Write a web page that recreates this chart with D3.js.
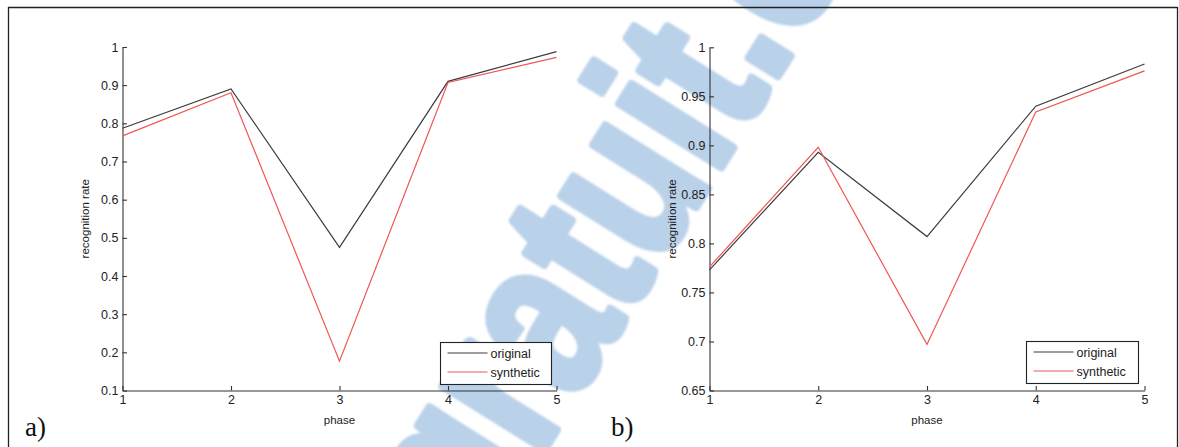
<!DOCTYPE html>
<html>
<head>
<meta charset="utf-8">
<script src="https://cdn.jsdelivr.net/npm/d3@7"></script>
<style>
  body { margin: 0; background: #fff; }
  svg { display: block; }
</style>
</head>
<body>
<svg id="chart" width="1179" height="447"></svg>
<script>
// Recognition rate per phase, two experiments
const phases = [1, 2, 3, 4, 5];
const seriesNames = ["original", "synthetic"];
const originalA = [0.787, 0.890, 0.475, 0.910, 0.988];
const syntheticA = [0.767, 0.880, 0.177, 0.907, 0.973];
const originalB = [0.773, 0.893, 0.807, 0.940, 0.983];
const syntheticB = [0.776, 0.898, 0.697, 0.934, 0.976];
const yTicksA = [0.1, 0.2, 0.3, 0.4, 0.5, 0.6, 0.7, 0.8, 0.9, 1];
const yTickLabelsA = ["0.1", "0.2", "0.3", "0.4", "0.5", "0.6", "0.7", "0.8", "0.9", "1"];
const yTicksB = [0.65, 0.7, 0.75, 0.8, 0.85, 0.9, 0.95, 1];
const yTickLabelsB = ["0.65", "0.7", "0.75", "0.8", "0.85", "0.9", "0.95", "1"];
const xTickLabels = ["1", "2", "3", "4", "5"];
const panelLabels = ["a)", "b)"];
const xTitle = "phase";
const yTitle = "recognition rate";
const watermarkText = "rapport-gratuit.com";

const colors = { original: "#3c3c3c", synthetic: "#f05656" };
const svg = d3.select("#chart");
const tickFont = "'Liberation Sans', Arial, sans-serif";

// Site watermark behind the figure (condensed heavy lettering, rotated)
svg.append("defs").append("filter").attr("id", "soft")
  .append("feGaussianBlur").attr("stdDeviation", 0.8);
const wm = svg.append("g").attr("filter", "url(#soft)");
const wmSize = 226, wmAngle = -58, wmSqueeze = 0.78;
const wmText = wm.append("text")
  .attr("font-family", tickFont)
  .attr("font-weight", "bold")
  .attr("font-size", wmSize)
  .attr("fill", "#bad1ea")
  .attr("stroke", "#bad1ea")
  .attr("stroke-width", 9)
  .attr("stroke-linejoin", "round")
  .text(watermarkText);
{
  const node = wmText.node();
  const dotIdx = watermarkText.indexOf(".");
  const before = node.getSubStringLength(0, dotIdx) * wmSqueeze;
  const dotW = node.getSubStringLength(dotIdx, 1) * wmSqueeze;
  const a = wmAngle * Math.PI / 180;
  const b = [Math.cos(a), Math.sin(a)], u = [Math.sin(a), -Math.cos(a)];
  const P = [770, 57];
  const along = before + dotW / 2, up = 0.073 * wmSize;
  const S = [P[0] - b[0] * along - u[0] * up, P[1] - b[1] * along - u[1] * up];
  wmText.attr("transform", `translate(${S[0]},${S[1]}) rotate(${wmAngle}) scale(${wmSqueeze},1)`);
}

// Outer frame
const frame = svg.append("g").attr("stroke", "#222").attr("stroke-width", 1.3).attr("fill", "none");
frame.append("line").attr("x1", 8).attr("x2", 1177.5).attr("y1", 7.5).attr("y2", 7.5);
frame.append("line").attr("x1", 8.5).attr("x2", 8.5).attr("y1", 7).attr("y2", 447);
frame.append("line").attr("x1", 1177.5).attr("x2", 1177.5).attr("y1", 7).attr("y2", 447);

function panel(cfg) {
  const x = d3.scaleLinear().domain([1, 5]).range(cfg.xRange);
  const y = d3.scaleLinear().domain(cfg.yDomain).range(cfg.yRange);
  const g = svg.append("g");

  const xAxis = d3.axisBottom(x).tickValues(phases)
    .tickFormat((d, i) => xTickLabels[i])
    .tickSizeInner(-4.5).tickSizeOuter(0).tickPadding(5);
  const yAxis = d3.axisLeft(y).tickValues(cfg.yTicks)
    .tickFormat((d, i) => cfg.yLabels[i])
    .tickSizeInner(-4.5).tickSizeOuter(0).tickPadding(4);

  const gx = g.append("g").attr("transform", `translate(0,${cfg.yRange[0]})`).call(xAxis);
  const gy = g.append("g").attr("transform", `translate(${cfg.xRange[0]},0)`).call(yAxis);
  [gx, gy].forEach(a => {
    a.selectAll("path, line").attr("stroke", "#333").attr("stroke-width", 1.1);
    a.selectAll("text").attr("fill", "#222").attr("font-family", tickFont).attr("font-size", 12.5);
  });

  // axis titles
  g.append("text")
    .attr("x", d3.mean(cfg.xRange)).attr("y", cfg.yRange[0] + 33)
    .attr("text-anchor", "middle").attr("font-family", tickFont).attr("font-size", 11.5)
    .attr("fill", "#222").text(xTitle);
  g.append("text")
    .attr("transform", `translate(${cfg.xRange[0] - 34},${d3.mean(cfg.yRange)}) rotate(-90)`)
    .attr("text-anchor", "middle").attr("font-family", tickFont).attr("font-size", 11.5)
    .attr("fill", "#222").text(yTitle);

  // series lines
  const line = d3.line().x((d, i) => x(phases[i])).y(d => y(d));
  const data = { original: cfg.original, synthetic: cfg.synthetic };
  seriesNames.forEach(name => {
    g.append("path").datum(data[name])
      .attr("d", line).attr("fill", "none")
      .attr("stroke", colors[name]).attr("stroke-width", 1.2);
  });

  // legend
  const L = cfg.legend;
  const lg = g.append("g").attr("transform", `translate(${L.x},${L.y})`);
  lg.append("rect").attr("width", L.w).attr("height", L.h)
    .attr("fill", "#fff").attr("stroke", "#222").attr("stroke-width", 1.1);
  seriesNames.forEach((name, i) => {
    const yy = 10.5 + i * 19;
    lg.append("line").attr("x1", 7).attr("x2", 47).attr("y1", yy).attr("y2", yy)
      .attr("stroke", colors[name]).attr("stroke-width", 1.2);
    lg.append("text").attr("x", 50).attr("y", yy + 4.5)
      .attr("font-family", tickFont).attr("font-size", 12.5).attr("fill", "#222").text(name);
  });

  // panel label
  svg.append("text").attr("x", cfg.labelX).attr("y", 436)
    .attr("font-family", "'Liberation Serif', 'Times New Roman', serif")
    .attr("font-size", 27).attr("fill", "#111").text(cfg.label);
}

panel({
  xRange: [122.5, 556.5], yRange: [390.5, 47], yDomain: [0.1, 1],
  yTicks: yTicksA, yLabels: yTickLabelsA,
  original: originalA, synthetic: syntheticA,
  legend: { x: 440.5, y: 342.5, w: 111, h: 42 },
  label: panelLabels[0], labelX: 25
});
panel({
  xRange: [709.5, 1144.5], yRange: [390.5, 47.3], yDomain: [0.65, 1],
  yTicks: yTicksB, yLabels: yTickLabelsB,
  original: originalB, synthetic: syntheticB,
  legend: { x: 1026.5, y: 341.5, w: 112, h: 42 },
  label: panelLabels[1], labelX: 611
});
</script>
</body>
</html>
